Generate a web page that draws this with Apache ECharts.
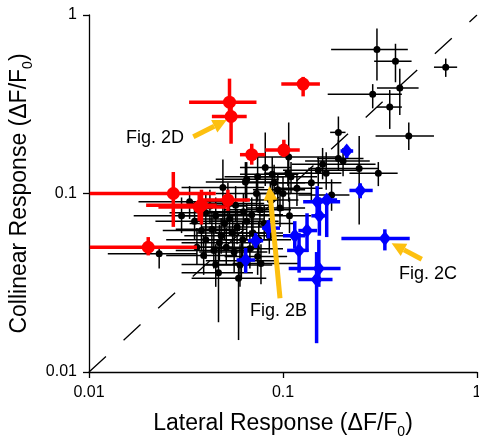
<!DOCTYPE html>
<html>
<head>
<meta charset="utf-8">
<script src="https://cdn.jsdelivr.net/npm/echarts@6.0.0/dist/echarts.min.js"></script>
<style>
  html, body { margin: 0; padding: 0; background: #fff; }
  #chart { width: 479px; height: 440px; }
</style>
</head>
<body>
<div id="chart"></div>
<script>
// rows: [lateral, collinear, lateralLo, lateralHi, collinearLo, collinearHi]
var blackPoints = [
  [0.305, 0.64, 0.177, 0.44, 0.43, 0.84],
  [0.38, 0.55, 0.295, 0.46, 0.42, 0.69],
  [0.69, 0.51, 0.60, 0.79, 0.45, 0.57],
  [0.40, 0.39, 0.305, 0.50, 0.275, 0.50],
  [0.29, 0.36, 0.17, 0.41, 0.30, 0.41],
  [0.355, 0.305, 0.305, 0.41, 0.23, 0.38],
  [0.445, 0.21, 0.30, 0.60, 0.175, 0.25],
  [0.193, 0.22, 0.175, 0.21, 0.16, 0.27],
  [0.193, 0.157, 0.15, 0.26, 0.135, 0.20],
  [0.204, 0.152, 0.13, 0.28, 0.125, 0.18],
  [0.247, 0.138, 0.135, 0.31, 0.067, 0.21],
  [0.31, 0.13, 0.22, 0.39, 0.11, 0.15],
  [0.16, 0.146, 0.111, 0.30, 0.12, 0.18],
  [0.152, 0.135, 0.10, 0.24, 0.11, 0.16],
  [0.167, 0.13, 0.13, 0.20, 0.105, 0.17],
  [0.14, 0.115, 0.095, 0.20, 0.09, 0.14],
  [0.107, 0.16, 0.07, 0.19, 0.09, 0.25],
  [0.178, 0.098, 0.12, 0.22, 0.08, 0.12],
  [0.118, 0.107, 0.09, 0.16, 0.085, 0.13],
  [0.11, 0.124, 0.075, 0.15, 0.10, 0.15],
  [0.106, 0.13, 0.08, 0.14, 0.11, 0.16],
  [0.094, 0.105, 0.07, 0.13, 0.085, 0.13],
  [0.088, 0.128, 0.06, 0.12, 0.10, 0.16],
  [0.081, 0.14, 0.06, 0.11, 0.11, 0.22],
  [0.074, 0.124, 0.05, 0.10, 0.09, 0.16],
  [0.065, 0.12, 0.045, 0.095, 0.09, 0.15],
  [0.064, 0.116, 0.04, 0.09, 0.09, 0.15],
  [0.049, 0.108, 0.03, 0.08, 0.07, 0.155],
  [0.073, 0.10, 0.045, 0.11, 0.08, 0.125],
  [0.086, 0.092, 0.06, 0.12, 0.075, 0.115],
  [0.0965, 0.083, 0.065, 0.13, 0.065, 0.105],
  [0.108, 0.075, 0.075, 0.14, 0.06, 0.095],
  [0.076, 0.081, 0.05, 0.11, 0.065, 0.10],
  [0.069, 0.076, 0.045, 0.10, 0.06, 0.095],
  [0.0625, 0.079, 0.04, 0.09, 0.065, 0.10],
  [0.057, 0.086, 0.035, 0.085, 0.07, 0.11],
  [0.052, 0.088, 0.032, 0.08, 0.07, 0.115],
  [0.042, 0.085, 0.028, 0.065, 0.068, 0.105],
  [0.045, 0.075, 0.03, 0.07, 0.06, 0.095],
  [0.040, 0.078, 0.026, 0.06, 0.062, 0.098],
  [0.035, 0.07, 0.022, 0.055, 0.055, 0.09],
  [0.043, 0.063, 0.028, 0.065, 0.05, 0.08],
  [0.038, 0.062, 0.024, 0.06, 0.048, 0.078],
  [0.05, 0.068, 0.033, 0.075, 0.055, 0.085],
  [0.053, 0.072, 0.035, 0.08, 0.058, 0.09],
  [0.058, 0.065, 0.038, 0.085, 0.052, 0.082],
  [0.065, 0.07, 0.043, 0.095, 0.055, 0.088],
  [0.07, 0.06, 0.045, 0.10, 0.048, 0.075],
  [0.055, 0.06, 0.036, 0.082, 0.047, 0.076],
  [0.062, 0.055, 0.04, 0.09, 0.044, 0.07],
  [0.040, 0.055, 0.025, 0.06, 0.043, 0.07],
  [0.048, 0.058, 0.031, 0.072, 0.046, 0.073],
  [0.047, 0.053, 0.03, 0.07, 0.042, 0.067],
  [0.051, 0.05, 0.033, 0.076, 0.04, 0.064],
  [0.044, 0.048, 0.028, 0.066, 0.038, 0.062],
  [0.056, 0.047, 0.037, 0.083, 0.036, 0.06],
  [0.036, 0.05, 0.023, 0.055, 0.04, 0.064],
  [0.039, 0.045, 0.025, 0.058, 0.035, 0.058],
  [0.061, 0.042, 0.04, 0.09, 0.033, 0.055],
  [0.0675, 0.049, 0.045, 0.10, 0.038, 0.062],
  [0.074, 0.0443, 0.05, 0.105, 0.035, 0.057],
  [0.077, 0.0406, 0.055, 0.12, 0.031, 0.052],
  [0.06, 0.0397, 0.04, 0.088, 0.03, 0.052],
  [0.045, 0.04, 0.03, 0.068, 0.03, 0.052],
  [0.0465, 0.036, 0.03, 0.07, 0.019, 0.05],
  [0.059, 0.0335, 0.0338, 0.082, 0.0151, 0.04],
  [0.075, 0.055, 0.05, 0.11, 0.044, 0.07],
  [0.08, 0.068, 0.055, 0.115, 0.055, 0.085],
  [0.085, 0.058, 0.06, 0.12, 0.046, 0.073],
  [0.023, 0.046, 0.0125, 0.036, 0.038, 0.05],
  [0.09, 0.115, 0.062, 0.13, 0.09, 0.145],
  [0.10, 0.10, 0.07, 0.14, 0.08, 0.125],
  [0.033, 0.09, 0.018, 0.055, 0.072, 0.11],
  [0.03, 0.075, 0.017, 0.05, 0.06, 0.095]
];

var redPoints = [
  [0.053, 0.325, 0.0328, 0.073, 0.26, 0.44],
  [0.054, 0.27, 0.043, 0.065, 0.19, 0.33],
  [0.127, 0.41, 0.098, 0.155, 0.35, 0.45],
  [0.069, 0.165, 0.06, 0.081, 0.145, 0.19],
  [0.101, 0.175, 0.081, 0.122, 0.16, 0.20],
  [0.0272, 0.10, 0.0101, 0.045, 0.065, 0.132],
  [0.038, 0.086, 0.0197, 0.0455, 0.067, 0.105],
  [0.037, 0.084, 0.0228, 0.051, 0.07, 0.10],
  [0.052, 0.092, 0.0373, 0.0675, 0.08, 0.105],
  [0.0202, 0.05, 0.0101, 0.036, 0.045, 0.057]
];

var bluePoints = [
  [0.213, 0.173, 0.198, 0.23, 0.158, 0.185],
  [0.25, 0.104, 0.22, 0.29, 0.094, 0.114],
  [0.335, 0.056, 0.20, 0.45, 0.048, 0.063],
  [0.15, 0.09, 0.127, 0.197, 0.075, 0.11],
  [0.168, 0.092, 0.152, 0.19, 0.057, 0.098],
  [0.154, 0.075, 0.14, 0.17, 0.058, 0.095],
  [0.133, 0.062, 0.12, 0.15, 0.047, 0.0775],
  [0.115, 0.058, 0.10, 0.13, 0.049, 0.07],
  [0.121, 0.048, 0.105, 0.135, 0.036, 0.06],
  [0.153, 0.038, 0.107, 0.198, 0.03, 0.055],
  [0.149, 0.033, 0.12, 0.18, 0.0145, 0.047],
  [0.084, 0.064, 0.078, 0.0965, 0.056, 0.071],
  [0.0723, 0.0544, 0.066, 0.079, 0.0495, 0.06],
  [0.0642, 0.0424, 0.0576, 0.0718, 0.0359, 0.0495]
];

// identity line ends
var diagonal = [[0.01, 0.01], [1, 1]];

// annotation arrows: [tailX, tailY, tipX, tipY]
var arrows = [
  [0.0345, 0.208, 0.0513, 0.258],
  [0.0965, 0.0259, 0.085, 0.110],
  [0.519, 0.0428, 0.363, 0.0526]
];
var arrowLabels = ['Fig. 2D', 'Fig. 2B', 'Fig. 2C'];

var chart = echarts.init(document.getElementById('chart'), null, { renderer: 'canvas' });

var font = 'Liberation Sans, Arial, sans-serif';
var yellow = '#FDC010';

function errorBars(rows, color, width, z) {
  return {
    type: 'custom',
    data: rows,
    z: z,
    silent: true,
    encode: { x: [0, 2, 3], y: [1, 4, 5] },
    renderItem: function (params, api) {
      var x = api.value(0), y = api.value(1);
      var a = api.coord([api.value(2), y]);
      var b = api.coord([api.value(3), y]);
      var c = api.coord([x, api.value(4)]);
      var d = api.coord([x, api.value(5)]);
      var st = { stroke: color, lineWidth: width };
      return {
        type: 'group',
        children: [
          { type: 'line', shape: { x1: a[0], y1: a[1], x2: b[0], y2: b[1] }, style: st },
          { type: 'line', shape: { x1: c[0], y1: c[1], x2: d[0], y2: d[1] }, style: st }
        ]
      };
    }
  };
}

function dots(rows, color, symbol, size, z) {
  return {
    type: 'scatter',
    data: rows.map(function (r) { return [r[0], r[1]]; }),
    symbol: symbol,
    symbolSize: size,
    itemStyle: { color: color, opacity: 1 },
    z: z,
    silent: true
  };
}

var labelFmt = function (v) { return String(+(+v).toPrecision(2)); };

var titleStyle = {
  fontFamily: font, fontSize: 23, color: '#000',
  rich: { sub: { fontFamily: font, fontSize: 14, color: '#000', verticalAlign: 'bottom', padding: [0, 0, -4, 0] } }
};

var option = {
  animation: false,
  backgroundColor: '#fff',
  grid: { left: 89, right: 2, top: 15, bottom: 68, outerBoundsMode: 'none', containLabel: false },
  xAxis: {
    type: 'log',
    logBase: 10,
    min: 0.01,
    max: 1,
    name: 'Lateral Response (\u0394F/F{sub|0})',
    nameLocation: 'middle',
    nameGap: 40,
    nameTextStyle: titleStyle,
    axisLine: { lineStyle: { color: '#000', width: 1.3 } },
    axisTick: { show: true, length: 6, lineStyle: { color: '#000', width: 1.3 } },
    minorTick: { show: false },
    splitLine: { show: false },
    axisLabel: { fontFamily: font, fontSize: 16, color: '#000', margin: 13, formatter: labelFmt, showMaxLabel: true, showMinLabel: true }
  },
  yAxis: {
    type: 'log',
    logBase: 10,
    min: 0.01,
    max: 1,
    name: 'Collinear Response (\u0394F/F{sub|0})',
    nameLocation: 'middle',
    nameGap: 53,
    nameTextStyle: titleStyle,
    axisLine: { lineStyle: { color: '#000', width: 1.3 } },
    axisTick: { show: true, length: 6, lineStyle: { color: '#000', width: 1.3 } },
    minorTick: { show: false },
    splitLine: { show: false },
    axisLabel: { fontFamily: font, fontSize: 16, color: '#000', margin: 12, formatter: labelFmt }
  },
  series: [
    {
      type: 'line',
      data: diagonal,
      showSymbol: false,
      silent: true,
      z: 1,
      lineStyle: { color: '#000', width: 1.3, type: [23, 24] }
    },
    errorBars(blackPoints, '#000', 1.5, 2),
    dots(blackPoints, '#000', 'circle', 7, 3),
    errorBars(redPoints, '#FF0000', 3.5, 4),
    dots(redPoints, '#FF0000', 'circle', 13, 5),
    errorBars(bluePoints, '#0000FF', 3.5, 6),
    dots(bluePoints, '#0000FF', 'diamond', [12, 15], 7),
    {
      type: 'custom',
      data: arrows,
      z: 8,
      silent: true,
      encode: { x: [0, 2], y: [1, 3] },
      renderItem: function (params, api) {
        var p0 = api.coord([api.value(0), api.value(1)]);
        var p1 = api.coord([api.value(2), api.value(3)]);
        var dx = p1[0] - p0[0], dy = p1[1] - p0[1];
        var len = Math.sqrt(dx * dx + dy * dy);
        var ux = dx / len, uy = dy / len;
        var head = 14, half = 7;
        var bx = p1[0] - ux * head, by = p1[1] - uy * head;
        return {
          type: 'group',
          children: [
            { type: 'line', shape: { x1: p0[0], y1: p0[1], x2: bx, y2: by }, style: { stroke: yellow, lineWidth: 5 } },
            { type: 'polygon', shape: { points: [[p1[0], p1[1]], [bx - uy * half, by + ux * half], [bx + uy * half, by - ux * half]] }, style: { fill: yellow } }
          ]
        };
      }
    }
  ],
  graphic: [
    { type: 'text', left: 126, top: 129, style: { text: arrowLabels[0], fontFamily: font, fontSize: 18, fill: '#000' } },
    { type: 'text', left: 250, top: 302, style: { text: arrowLabels[1], fontFamily: font, fontSize: 18, fill: '#000' } },
    { type: 'text', left: 399, top: 265, style: { text: arrowLabels[2], fontFamily: font, fontSize: 18, fill: '#000' } }
  ]
};

chart.setOption(option);
</script>
</body>
</html>
